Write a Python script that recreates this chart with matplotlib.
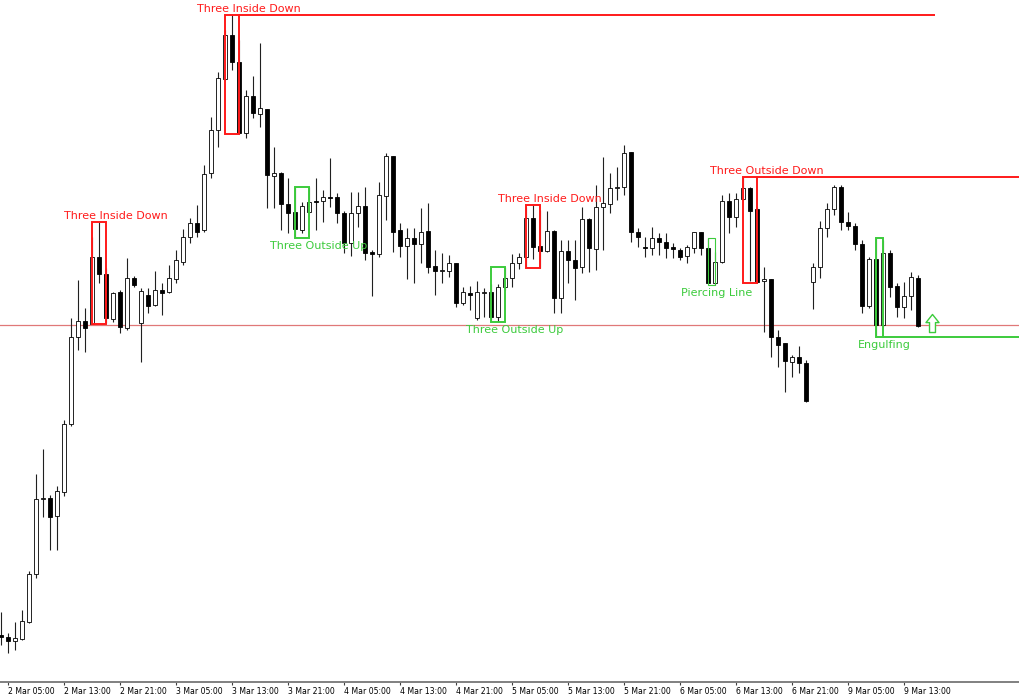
#!/usr/bin/env python3
"""
H1 candlestick chart with detected candle patterns (boxes + labels).
Prices are in chart points; x is the bar index (weekend gap removed).
"""
import matplotlib
matplotlib.use("Agg")
import matplotlib.pyplot as plt
from matplotlib.patches import Rectangle
from matplotlib.path import Path

OPEN = [65, 63, 59, 61, 78, 126, 201, 202, 184, 208,
        276, 363, 379, 376, 443, 426, 381, 408, 372, 422,
        377, 405, 395, 410, 408, 421, 438, 463, 477, 470,
        527, 570, 621, 665, 638, 567, 604, 586, 591, 524,
        527, 496, 488, 470, 488, 499, 499, 503, 503, 487,
        457, 487, 494, 448, 446, 504, 544, 470, 454, 462,
        456, 469, 434, 429, 429, 437, 397, 407, 382, 407,
        408, 383, 413, 422, 437, 443, 482, 454, 449, 469,
        402, 449, 440, 433, 481, 451, 493, 496, 512, 513,
        548, 468, 453, 452, 462, 458, 453, 450, 444, 452,
        468, 452, 417, 438, 499, 483, 501, 512, 491, 419,
        421, 363, 357, 338, 343, 337, 418, 433, 472, 491,
        513, 478, 474, 456, 394, 441, 375, 447, 414, 393,
        404, 422]
HIGH = [88, 67, 78, 90, 129, 226, 251, 205, 214, 280,
        382, 420, 392, 463, 478, 432, 408, 410, 442, 424,
        412, 412, 429, 417, 435, 450, 471, 482, 495, 535,
        583, 628, 670, 685, 660, 610, 624, 657, 591, 553,
        528, 522, 513, 498, 513, 522, 510, 542, 507, 489,
        508, 508, 513, 450, 518, 547, 544, 477, 472, 472,
        492, 497, 450, 447, 445, 437, 413, 414, 419, 412,
        416, 416, 433, 446, 447, 493, 495, 490, 489, 470,
        460, 460, 460, 493, 482, 515, 543, 527, 533, 555,
        548, 472, 463, 473, 467, 467, 457, 452, 455, 468,
        468, 462, 448, 505, 507, 507, 523, 513, 493, 433,
        421, 370, 357, 345, 354, 340, 437, 479, 497, 515,
        515, 488, 477, 460, 443, 462, 460, 450, 417, 418,
        428, 425]
LOW = [55, 47, 50, 60, 77, 122, 183, 150, 150, 204,
       274, 350, 348, 376, 417, 377, 378, 367, 370, 413,
       338, 387, 394, 385, 407, 417, 435, 457, 463, 468,
       522, 553, 620, 630, 566, 562, 582, 573, 492, 492,
       470, 467, 462, 467, 487, 470, 478, 493, 477, 447,
       444, 473, 440, 404, 443, 480, 448, 443, 421, 417,
       437, 427, 405, 417, 423, 393, 395, 390, 380, 383,
       380, 378, 410, 413, 431, 433, 441, 432, 448, 387,
       387, 417, 400, 427, 428, 430, 450, 487, 500, 505,
       458, 453, 443, 445, 445, 442, 442, 440, 437, 447,
       445, 417, 415, 437, 467, 473, 500, 419, 417, 368,
       343, 333, 308, 323, 327, 298, 391, 422, 463, 485,
       470, 470, 450, 387, 392, 363, 373, 403, 383, 382,
       390, 373]
CLOSE = [63, 59, 62, 79, 126, 201, 202, 183, 209, 276,
         363, 379, 372, 443, 426, 382, 407, 373, 422, 415,
         409, 394, 410, 407, 422, 440, 463, 477, 468, 526,
         570, 622, 665, 638, 567, 604, 587, 592, 525, 527,
         496, 487, 471, 494, 498, 498, 503, 502, 487, 457,
         487, 494, 447, 446, 505, 544, 468, 454, 462, 456,
         468, 433, 429, 430, 437, 397, 408, 405, 408, 408,
         383, 413, 422, 437, 443, 482, 453, 449, 469, 402,
         449, 440, 432, 481, 452, 493, 497, 512, 513, 547,
         468, 463, 452, 462, 458, 452, 451, 443, 453, 468,
         452, 417, 438, 499, 483, 501, 512, 489, 418, 421,
         363, 355, 339, 343, 337, 299, 433, 472, 491, 513,
         478, 474, 456, 394, 441, 375, 447, 413, 393, 404,
         423, 374]

TICK_BARS = list(range(1, 130, 8))
TICK_LABELS = ["2 Mar 05:00", "2 Mar 13:00", "2 Mar 21:00",
               "3 Mar 05:00", "3 Mar 13:00", "3 Mar 21:00",
               "4 Mar 05:00", "4 Mar 13:00", "4 Mar 21:00",
               "5 Mar 05:00", "5 Mar 13:00", "5 Mar 21:00",
               "6 Mar 05:00", "6 Mar 13:00", "6 Mar 21:00",
               "9 Mar 05:00", "9 Mar 13:00"]

PATTERN_NAMES = ["Three Inside Down", "Three Inside Down", "Three Outside Up",
                 "Three Outside Up", "Three Inside Down", "Piercing Line",
                 "Three Outside Down", "Engulfing"]
PATTERN_FIRST = [13, 32, 42, 70, 75, 101, 106, 125]
PATTERN_LAST = [15, 34, 44, 72, 77, 102, 108, 126]
PATTERN_BULLISH = [False, False, True, True, False, True, False, True]

BID_LEVEL = 375
SIGNAL_BAR = 133
SIGNAL_PRICE = 377

RED = "#FF1A1A"
GREEN = "#3CCB3C"

X_MIN, X_MAX = -0.14, 145.57
Y_MIN, Y_MAX = 18, 700


def up_arrow_path() -> Path:
    verts = [(0, 1), (0.72, 0.1), (0.33, 0.1), (0.33, -1), (-0.33, -1),
             (-0.33, 0.1), (-0.72, 0.1), (0, 1)]
    codes = [Path.MOVETO] + [Path.LINETO] * 6 + [Path.CLOSEPOLY]
    return Path(verts, codes)


def main() -> None:
    fig = plt.figure(figsize=(10.2, 7.0), dpi=100)
    ax = fig.add_axes((0.0, Y_MIN / 700, 1.0, (700 - Y_MIN) / 700))
    ax.set_xlim(X_MIN, X_MAX)
    ax.set_ylim(Y_MIN, Y_MAX)

    # bid line
    ax.axhline(BID_LEVEL, color="#E07878", lw=0.9, zorder=1)

    # candles
    xs = range(len(OPEN))
    ax.vlines(xs, LOW, HIGH, color="#202020", lw=0.8, zorder=2)
    for i in xs:
        o, c = OPEN[i], CLOSE[i]
        bull = c >= o
        ax.bar(i, max(abs(c - o), 0.3), bottom=min(o, c), width=0.62,
               color="white" if bull else "black", edgecolor="black",
               linewidth=0.6, zorder=3)

    # pattern boxes + labels
    for k, name in enumerate(PATTERN_NAMES):
        a, b = PATTERN_FIRST[k], PATTERN_LAST[k]
        hi = max(HIGH[a:b + 1])
        lo = min(LOW[a:b + 1])
        col = GREEN if PATTERN_BULLISH[k] else RED
        lw = 0.8 if name == "Piercing Line" else 1.4
        ax.add_patch(Rectangle((a, lo), b - a, hi - lo, fill=False,
                               edgecolor=col, lw=lw, zorder=4))
        span = b - a
        tx = a + (3.4 if span == 2 else 1.2)
        if PATTERN_BULLISH[k]:
            ax.annotate(name, (tx, lo), xytext=(0, -2), textcoords="offset points",
                        ha="center", va="top", color=col, fontsize=8, zorder=5)
        else:
            ax.annotate(name, (tx, hi), xytext=(0, 2.2), textcoords="offset points",
                        ha="center", va="baseline", color=col, fontsize=8, zorder=5)

    # rays from some patterns
    k = 1
    ax.hlines(max(HIGH[PATTERN_FIRST[k]:PATTERN_LAST[k] + 1]),
              PATTERN_LAST[k], 133.4, color=RED, lw=1.4, zorder=4)
    k = 6
    ax.hlines(max(HIGH[PATTERN_FIRST[k]:PATTERN_LAST[k] + 1]),
              PATTERN_LAST[k], X_MAX, color=RED, lw=1.4, zorder=4)
    k = 7
    ax.hlines(min(LOW[PATTERN_FIRST[k]:PATTERN_LAST[k] + 1]),
              PATTERN_LAST[k], X_MAX, color=GREEN, lw=1.4, zorder=4)

    # buy signal arrow
    ax.plot(SIGNAL_BAR, SIGNAL_PRICE, marker=up_arrow_path(), markersize=13,
            mfc="white", mec=GREEN, mew=1.0, zorder=5)

    # axes styling
    for side in ("top", "left", "right"):
        ax.spines[side].set_visible(False)
    ax.spines["bottom"].set_color("#808080")
    ax.spines["bottom"].set_linewidth(1.4)
    ax.set_yticks([])
    ax.set_xticks(TICK_BARS)
    ax.set_xticklabels(TICK_LABELS, ha="left", fontsize=5.6)
    ax.tick_params(axis="x", direction="out", length=2.5, width=0.8,
                   color="#404040", pad=1)
    ax.set_facecolor("white")

    fig.savefig("out.png", dpi=100)


if __name__ == "__main__":
    main()
